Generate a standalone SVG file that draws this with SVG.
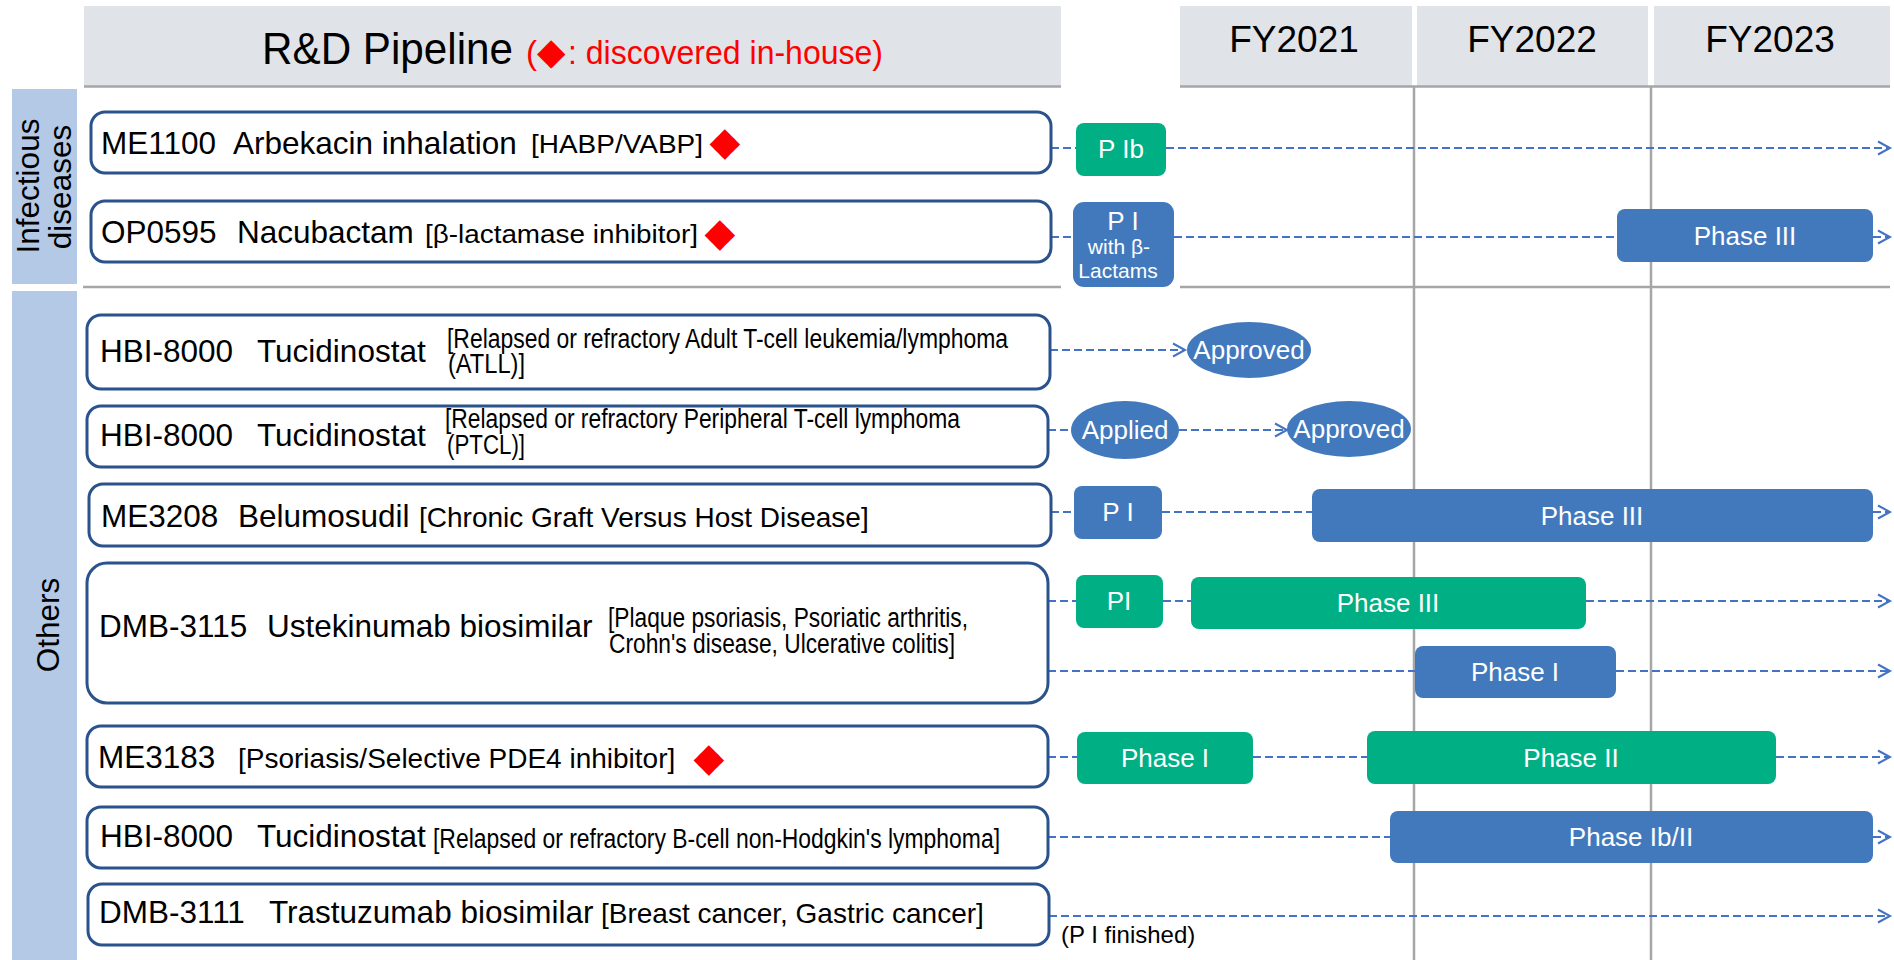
<svg xmlns="http://www.w3.org/2000/svg" width="1894" height="960" viewBox="0 0 1894 960">
<defs>
<marker id="arr" markerUnits="userSpaceOnUse" markerWidth="16" markerHeight="16" refX="13" refY="8" orient="auto" overflow="visible">
<path d="M1,1.5 L13,8 L1,14.5" fill="none" stroke="#4472C4" stroke-width="2"/>
</marker>
<style>
text{font-family:"Liberation Sans",Arial,sans-serif}
.hdr{fill:#E0E4E9}
.side{fill:#B4C9E6}
.grid{stroke:#A6A6A6;stroke-width:2.5;fill:none}
.node{fill:#fff;stroke:#2A528C;stroke-width:3}
.main{font-size:31.5px;fill:#000}
.desc{font-size:28px;fill:#000}
.nar{font-size:27px;fill:#000;font-family:"Liberation Sans Narrow","Liberation Sans",Arial,sans-serif}
.nar26{font-size:26px}
.blue{fill:#4279BD}
.green{fill:#00AF84}
.bt{font-size:26px;fill:#fff;text-anchor:middle}
.bts{font-size:21px}
.dash{stroke:#4472C4;stroke-width:2.2;stroke-dasharray:8 4;fill:none}
.dia{font-family:"DejaVu Sans",sans-serif;fill:#FF0000}
.yr{font-size:37px;fill:#000;text-anchor:middle}
.red{fill:#FF0000}
</style>
</defs>
<rect width="1894" height="960" fill="#fff"/>

<g id="header">
<rect class="hdr" x="84" y="6" width="977" height="80"/>
<rect class="hdr" x="1180" y="6" width="232" height="80"/>
<rect class="hdr" x="1417" y="6" width="231" height="80"/>
<rect class="hdr" x="1654" y="6" width="236" height="80"/>
<text y="64"><tspan x="262" font-size="45" textLength="251" lengthAdjust="spacingAndGlyphs">R&amp;D Pipeline</tspan><tspan class="red" x="526" font-size="33">(</tspan><tspan class="dia" x="537" font-size="37">◆</tspan><tspan class="red" x="568" font-size="33" textLength="315" lengthAdjust="spacingAndGlyphs">: discovered in-house)</tspan></text>
<text class="yr" x="1294" y="52">FY2021</text>
<text class="yr" x="1532" y="52">FY2022</text>
<text class="yr" x="1770" y="52">FY2023</text>
</g>

<g id="grid">
<line class="grid" x1="84" y1="86.5" x2="1061" y2="86.5"/>
<line class="grid" x1="1180" y1="86.5" x2="1890" y2="86.5"/>
<line class="grid" x1="83" y1="287" x2="1061" y2="287"/>
<line class="grid" x1="1180" y1="287" x2="1890" y2="287"/>
<line class="grid" x1="1414" y1="86" x2="1414" y2="960"/>
<line class="grid" x1="1651" y1="86" x2="1651" y2="960"/>
</g>

<g id="cat-infectious">
<rect class="side" x="12" y="89" width="65" height="195"/>
<text font-size="31.5" text-anchor="middle" transform="translate(38.5,186) rotate(-90)">Infectious</text>
<text font-size="31.5" text-anchor="middle" transform="translate(71,187) rotate(-90)">diseases</text>
</g>
<g id="cat-others">
<rect class="side" x="12" y="291" width="65" height="669"/>
<text font-size="31.5" text-anchor="middle" transform="translate(59,625) rotate(-90)">Others</text>
</g>

<g id="connectors">
<line class="dash" x1="1051" y1="148" x2="1076" y2="148"/>
<line class="dash" x1="1166" y1="148" x2="1890" y2="148" marker-end="url(#arr)"/>
<line class="dash" x1="1051" y1="237" x2="1073" y2="237"/>
<line class="dash" x1="1174" y1="237" x2="1617" y2="237"/>
<line class="dash" x1="1873" y1="237" x2="1890" y2="237" marker-end="url(#arr)"/>
<line class="dash" x1="1050" y1="350" x2="1185" y2="350" marker-end="url(#arr)"/>
<line class="dash" x1="1048" y1="430" x2="1071" y2="430"/>
<line class="dash" x1="1179" y1="430" x2="1287" y2="430" marker-end="url(#arr)"/>
<line class="dash" x1="1051" y1="512" x2="1074" y2="512"/>
<line class="dash" x1="1162" y1="512" x2="1312" y2="512"/>
<line class="dash" x1="1873" y1="512" x2="1890" y2="512" marker-end="url(#arr)"/>
<line class="dash" x1="1048" y1="601" x2="1076" y2="601"/>
<line class="dash" x1="1163" y1="601" x2="1191" y2="601"/>
<line class="dash" x1="1586" y1="601" x2="1890" y2="601" marker-end="url(#arr)"/>
<line class="dash" x1="1048" y1="671" x2="1415" y2="671"/>
<line class="dash" x1="1616" y1="671" x2="1890" y2="671" marker-end="url(#arr)"/>
<line class="dash" x1="1048" y1="757" x2="1077" y2="757"/>
<line class="dash" x1="1253" y1="757" x2="1367" y2="757"/>
<line class="dash" x1="1776" y1="757" x2="1890" y2="757" marker-end="url(#arr)"/>
<line class="dash" x1="1048" y1="837" x2="1390" y2="837"/>
<line class="dash" x1="1873" y1="837" x2="1890" y2="837" marker-end="url(#arr)"/>
<line class="dash" x1="1049" y1="916" x2="1890" y2="916" marker-end="url(#arr)"/>
</g>

<g id="node-me1100">
<rect class="node" x="91" y="112" width="960" height="61" rx="14"/>
<text class="main" y="154"><tspan x="101">ME1100</tspan><tspan x="233">Arbekacin inhalation</tspan></text>
<text class="nar nar26" x="531" y="153" textLength="172" lengthAdjust="spacingAndGlyphs">[HABP/VABP]</text>
<text class="dia" x="725" y="155" font-size="40" text-anchor="middle">◆</text>
</g>
<g id="node-op0595">
<rect class="node" x="91" y="201" width="960" height="61" rx="14"/>
<text class="main" y="243"><tspan x="101">OP0595</tspan><tspan x="237">Nacubactam</tspan></text>
<text class="nar nar26" x="425" y="243" textLength="273" lengthAdjust="spacingAndGlyphs">[β-lactamase inhibitor]</text>
<text class="dia" x="720" y="246" font-size="40" text-anchor="middle">◆</text>
</g>
<g id="node-hbi8000-atll">
<rect class="node" x="87" y="315" width="963" height="74" rx="14"/>
<text class="main" y="362"><tspan x="100">HBI-8000</tspan><tspan x="257">Tucidinostat</tspan></text>
<text class="nar"><tspan x="447" y="348" textLength="561" lengthAdjust="spacingAndGlyphs">[Relapsed or refractory Adult T-cell leukemia/lymphoma</tspan><tspan x="448" y="373" textLength="77" lengthAdjust="spacingAndGlyphs">(ATLL)]</tspan></text>
</g>
<g id="node-hbi8000-ptcl">
<rect class="node" x="87" y="406" width="961" height="61" rx="14"/>
<text class="main" y="446"><tspan x="100">HBI-8000</tspan><tspan x="257">Tucidinostat</tspan></text>
<text class="nar"><tspan x="445" y="428" textLength="515" lengthAdjust="spacingAndGlyphs">[Relapsed or refractory Peripheral T-cell lymphoma</tspan><tspan x="447" y="454" textLength="78" lengthAdjust="spacingAndGlyphs">(PTCL)]</tspan></text>
</g>
<g id="node-me3208">
<rect class="node" x="89" y="484" width="962" height="62" rx="14"/>
<text class="main" y="527"><tspan x="101">ME3208</tspan><tspan x="238">Belumosudil</tspan></text>
<text class="desc" x="419" y="527">[Chronic Graft Versus Host Disease]</text>
</g>
<g id="node-dmb3115">
<rect class="node" x="87" y="563" width="961" height="140" rx="20"/>
<text class="main" y="637"><tspan x="99">DMB-3115</tspan><tspan x="267">Ustekinumab biosimilar</tspan></text>
<text class="nar"><tspan x="608" y="627" textLength="360" lengthAdjust="spacingAndGlyphs">[Plaque psoriasis, Psoriatic arthritis,</tspan><tspan x="609" y="653" textLength="346" lengthAdjust="spacingAndGlyphs">Crohn's disease, Ulcerative colitis]</tspan></text>
</g>
<g id="node-me3183">
<rect class="node" x="87" y="726" width="961" height="61" rx="14"/>
<text class="main" x="98" y="768">ME3183</text>
<text class="desc" x="238" y="768">[Psoriasis/Selective PDE4 inhibitor]</text>
<text class="dia" x="709" y="771" font-size="40" text-anchor="middle">◆</text>
</g>
<g id="node-hbi8000-bcell">
<rect class="node" x="87" y="807" width="961" height="61" rx="14"/>
<text class="main" y="847"><tspan x="100">HBI-8000</tspan><tspan x="257">Tucidinostat</tspan></text>
<text class="nar" x="433" y="848" textLength="567" lengthAdjust="spacingAndGlyphs">[Relapsed or refractory B-cell non-Hodgkin's lymphoma]</text>
</g>
<g id="node-dmb3111">
<rect class="node" x="88" y="884" width="961" height="61" rx="14"/>
<text class="main" y="923"><tspan x="99">DMB-3111</tspan><tspan x="269">Trastuzumab biosimilar</tspan></text>
<text class="desc" x="601" y="923">[Breast cancer, Gastric cancer]</text>
</g>

<g id="bar-me1100-pib">
<rect class="green" x="1076" y="123" width="90" height="53" rx="8"/>
<text class="bt" x="1121" y="158">P Ib</text>
</g>
<g id="bar-op0595-pi">
<rect class="blue" x="1073" y="202" width="101" height="85" rx="11"/>
<text class="bt"><tspan x="1123" y="230">P I</tspan><tspan class="bts" x="1119" y="254">with β-</tspan><tspan class="bts" x="1118" y="278">Lactams</tspan></text>
</g>
<g id="bar-op0595-p3">
<rect class="blue" x="1617" y="209" width="256" height="53" rx="8"/>
<text class="bt" x="1745" y="245">Phase III</text>
</g>
<g id="ell-atll-approved">
<ellipse class="blue" cx="1249" cy="350" rx="62" ry="28"/>
<text class="bt" x="1249" y="359">Approved</text>
</g>
<g id="ell-ptcl-applied">
<ellipse class="blue" cx="1125" cy="430" rx="54" ry="29"/>
<text class="bt" x="1125" y="439">Applied</text>
</g>
<g id="ell-ptcl-approved">
<ellipse class="blue" cx="1349" cy="429" rx="62" ry="28"/>
<text class="bt" x="1349" y="438">Approved</text>
</g>
<g id="bar-me3208-pi">
<rect class="blue" x="1074" y="486" width="88" height="53" rx="8"/>
<text class="bt" x="1118" y="521">P I</text>
</g>
<g id="bar-me3208-p3">
<rect class="blue" x="1312" y="489" width="561" height="53" rx="8"/>
<text class="bt" x="1592" y="525">Phase III</text>
</g>
<g id="bar-dmb3115-pi">
<rect class="green" x="1076" y="575" width="87" height="53" rx="8"/>
<text class="bt" x="1119" y="610">PI</text>
</g>
<g id="bar-dmb3115-p3">
<rect class="green" x="1191" y="577" width="395" height="52" rx="8"/>
<text class="bt" x="1388" y="612">Phase III</text>
</g>
<g id="bar-dmb3115-p1">
<rect class="blue" x="1415" y="646" width="201" height="52" rx="8"/>
<text class="bt" x="1515" y="681">Phase I</text>
</g>
<g id="bar-me3183-p1">
<rect class="green" x="1077" y="732" width="176" height="52" rx="8"/>
<text class="bt" x="1165" y="767">Phase I</text>
</g>
<g id="bar-me3183-p2">
<rect class="green" x="1367" y="731" width="409" height="53" rx="8"/>
<text class="bt" x="1571" y="767">Phase II</text>
</g>
<g id="bar-hbi-p1b2">
<rect class="blue" x="1390" y="811" width="483" height="52" rx="8"/>
<text class="bt" x="1631" y="846">Phase Ib/II</text>
</g>
<text x="1061" y="943" font-size="24" fill="#000">(P I finished)</text>
</svg>
